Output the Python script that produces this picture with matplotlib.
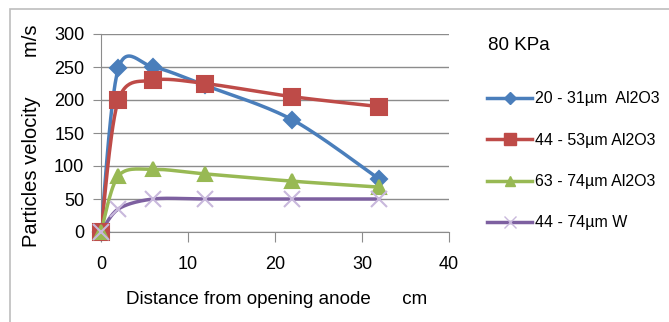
import matplotlib.pyplot as plt
import numpy as np
from matplotlib.lines import Line2D
from matplotlib.patches import Rectangle

plt.rcParams["font.family"] = ["Liberation Sans", "DejaVu Sans"]

distance = [0, 2, 6, 12, 22, 32]
v_20_31 = [0, 248, 250, 222, 170, 80]
v_44_53 = [0, 200, 230, 225, 205, 190]
v_63_74 = [0, 85, 95, 88, 77, 68]
v_44_74_w = [0, 35, 50, 50, 50, 50]

labels = ["20 - 31µm  Al2O3", "44 - 53µm Al2O3", "63 - 74µm Al2O3", "44 - 74µm W"]
colors = ["#4a7ebb", "#be4b48", "#98b954", "#7d60a0"]
marker_colors = ["#4a7ebb", "#be4b48", "#98b954", "#c8b8dc"]
markers = ["D", "s", "^", "x"]
marker_sizes = [8, 12, 10, 11]


def smooth(x, y, n=30, k=6.5):
    # smoothed line: cubic Bezier segments through the points
    x = np.asarray(x, float)
    y = np.asarray(y, float)
    px, py = [], []
    t = np.linspace(0, 1, n)
    for i in range(len(x) - 1):
        x0, y0 = x[max(i - 1, 0)], y[max(i - 1, 0)]
        x3, y3 = x[min(i + 2, len(x) - 1)], y[min(i + 2, len(y) - 1)]
        c1x = x[i] + (x[i + 1] - x0) / k
        c1y = y[i] + (y[i + 1] - y0) / k
        c2x = x[i + 1] - (x3 - x[i]) / k
        c2y = y[i + 1] - (y3 - y[i]) / k
        bx = ((1 - t) ** 3 * x[i] + 3 * (1 - t) ** 2 * t * c1x
              + 3 * (1 - t) * t ** 2 * c2x + t ** 3 * x[i + 1])
        by = ((1 - t) ** 3 * y[i] + 3 * (1 - t) ** 2 * t * c1y
              + 3 * (1 - t) * t ** 2 * c2y + t ** 3 * y[i + 1])
        px.extend(bx)
        py.extend(by)
    return px, py


fig = plt.figure(figsize=(6.69, 3.22), dpi=100)
fig.patches.append(Rectangle((10 / 669, -0.1), 1.1, 1 - 9 / 322 + 0.1,
                             transform=fig.transFigure, fill=False,
                             edgecolor="#bdbdbd", linewidth=1.2))

ax = fig.add_axes([101 / 669, 1 - 232 / 322, 348 / 669, 198 / 322])

series = [v_20_31, v_44_53, v_63_74, v_44_74_w]
for vals, col, mcol, mk, ms in zip(series, colors, marker_colors, markers, marker_sizes):
    sx, sy = smooth(distance, vals)
    ax.plot(sx, sy, color=col, linewidth=2.5, zorder=3)
    ax.plot(distance, vals, linestyle="none", marker=mk, markersize=ms,
            color=mcol, markeredgecolor=mcol, markeredgewidth=1.5, zorder=4,
            clip_on=False)

ax.set_xlim(0, 40)
ax.set_ylim(0, 300)
ax.set_xticks([0, 10, 20, 30, 40])
ax.set_yticks(range(0, 301, 50))
ax.grid(axis="y", color="#8c8c8c", linewidth=1)
ax.set_axisbelow(True)
for side in ["top", "right"]:
    ax.spines[side].set_visible(False)
ax.spines["left"].set_color("#8c8c8c")
ax.spines["bottom"].set_color("#8c8c8c")
ax.tick_params(axis="y", length=6, color="#8c8c8c", labelsize=13, pad=6)
ax.tick_params(axis="x", length=7, color="#8c8c8c", labelsize=13, pad=10)

fig.text(32 / 669, 1 - 136 / 322, "Particles velocity       m/s", rotation=90,
         ha="center", va="center", fontsize=14.5)
fig.text(277 / 669, 1 - 300 / 322, "Distance from opening anode      cm",
         ha="center", va="center", fontsize=13.5)
fig.text(488 / 669, 1 - 45 / 322, "80 KPa", ha="left", va="center", fontsize=13.5)

handles = [Line2D([0], [0], color=c, marker=m, markersize=s * 0.75,
                  markerfacecolor=mc, markeredgecolor=mc, linewidth=2.5)
           for c, mc, m, s in zip(colors, marker_colors, markers, marker_sizes)]
fig.legend(handles, labels, loc="upper left",
           bbox_to_anchor=(481 / 669, 1 - 85 / 322), frameon=False,
           fontsize=11.5, handlelength=2.8, handletextpad=0.15,
           labelspacing=1.65, borderaxespad=0)

fig.savefig("out.png", dpi=100)
